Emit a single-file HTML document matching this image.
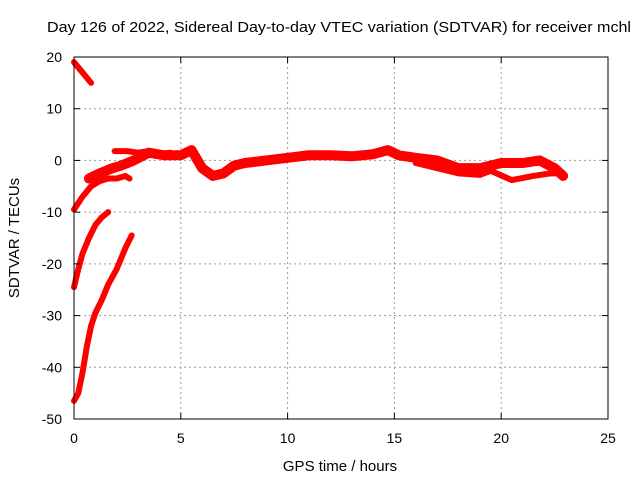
<!DOCTYPE html>
<html><head><meta charset="utf-8"><style>
body{margin:0;background:#fff;}
svg{display:block;font-family:"Liberation Sans",sans-serif;}
</style></head><body>
<svg id="chart" width="640" height="480" viewBox="0 0 640 480">
<text x="47" y="32" font-size="15" textLength="584" lengthAdjust="spacingAndGlyphs">Day 126 of 2022, Sidereal Day-to-day VTEC variation (SDTVAR) for receiver mchl</text>
<g id="grid"></g>
<g id="series"></g>
<rect x="74" y="57" width="534" height="362" fill="none" stroke="#000" stroke-width="1"/>
<g id="ticks"></g>
<text x="340" y="471" font-size="15" text-anchor="middle">GPS time / hours</text>
<text transform="translate(19,238) rotate(-90)" font-size="15" text-anchor="middle">SDTVAR / TECUs</text>
</svg>
<script>
const xTicks=[0,5,10,15,20,25];
const yTicks=[20,10,0,-10,-20,-30,-40,-50];
const serA_x=[0,0.3,0.8];
const serA_y=[19,17.5,15];
const serB_x=[0,0.4,0.8,1.2,1.6,2.0,2.4,2.6];
const serB_y=[-9.5,-7,-5,-4,-3.5,-3.5,-3,-3.5];
const serMain_x=[0.7,1.2,1.8,2.2,2.8,3.5,4.2,5.0,5.5,6.0,6.5,7.0,7.5,8.0,9,10,11,12,13,14,14.7,15.2,16,17,18,19,20,21,21.8,22.5,22.9];
const serMain_y=[-3.5,-2.5,-1.5,-1,0,1.5,1,1,2,-1.5,-3,-2.5,-1,-0.5,0,0.5,1,1,0.8,1.2,2,1,0.5,0,-1.5,-1.5,-0.5,-0.5,0,-1.5,-3];
const serTop_x=[1.9,2.5,3.0,3.5,4.0,4.5];
const serTop_y=[1.8,1.8,1.5,1.8,1.2,1.5];
const serLow_x=[16,17,18,19,19.5,20.5,21.5,22.3,22.9];
const serLow_y=[-0.5,-1.5,-2.5,-2.8,-2,-3.8,-3,-2.5,-2.5];
const serC_x=[0,0.2,0.4,0.7,1.0,1.3,1.6];
const serC_y=[-24.5,-21,-18,-15,-12.5,-11,-10];
const serD_x=[0,0.2,0.4,0.6,0.8,1.0,1.3,1.6,2.0,2.4,2.7];
const serD_y=[-46.5,-45,-41,-36,-32,-29.5,-27,-24,-21,-17,-14.5];
const X0=74,X1=608,Y0=419,Y1=57;
const sx=v=>X0+(v-0)/25*(X1-X0);
const sy=v=>Y0-(v+50)/70*(Y0-Y1);
const NS="http://www.w3.org/2000/svg";
const grid=document.getElementById('grid'),ticks=document.getElementById('ticks'),ser=document.getElementById('series');
function mk(t,a,p){const e=document.createElementNS(NS,t);for(const k in a)e.setAttribute(k,a[k]);p.appendChild(e);return e;}
xTicks.forEach(v=>{
 const x=sx(v);
 if(v>0&&v<25){const g=mk('line',{x1:x,y1:Y1,x2:x,y2:Y0,stroke:'#999','stroke-dasharray':'2,3'},grid);
 
 }
 const t=mk('text',{x:x,y:443,'font-size':14,'text-anchor':'middle'},ticks);t.textContent=v;
 
 
 mk('line',{x1:x,y1:Y0,x2:x,y2:Y0-6,stroke:'#000'},ticks);
 mk('line',{x1:x,y1:Y1,x2:x,y2:Y1+6,stroke:'#000'},ticks);
});
yTicks.forEach(v=>{
 const y=sy(v);
 if(v>-50&&v<20){const g=mk('line',{x1:X0,y1:y,x2:X1,y2:y,stroke:'#999','stroke-dasharray':'2,3'},grid);
 
 }
 const t=mk('text',{x:62,y:y+5,'font-size':14,'text-anchor':'end'},ticks);t.textContent=v;
 
 
 mk('line',{x1:X0,y1:y,x2:X0+6,y2:y,stroke:'#000'},ticks);
 mk('line',{x1:X1,y1:y,x2:X1-6,y2:y,stroke:'#000'},ticks);
});
function line(xs,ys,w,name){
 const p=mk('polyline',{points:xs.map((x,i)=>sx(x)+','+sy(ys[i])).join(' '),fill:'none',stroke:'#f00','stroke-width':w,'stroke-linejoin':'round','stroke-linecap':'round'},ser);
 
 
}
line(serA_x,serA_y,6,'series-a');
line(serB_x,serB_y,6,'series-b');
line(serMain_x,serMain_y,10,'series-main');
line(serTop_x,serTop_y,6,'series-top');
line(serLow_x,serLow_y,6,'series-low');
line(serC_x,serC_y,6,'series-c');
line(serD_x,serD_y,6,'series-d');
</script>
</body></html>
